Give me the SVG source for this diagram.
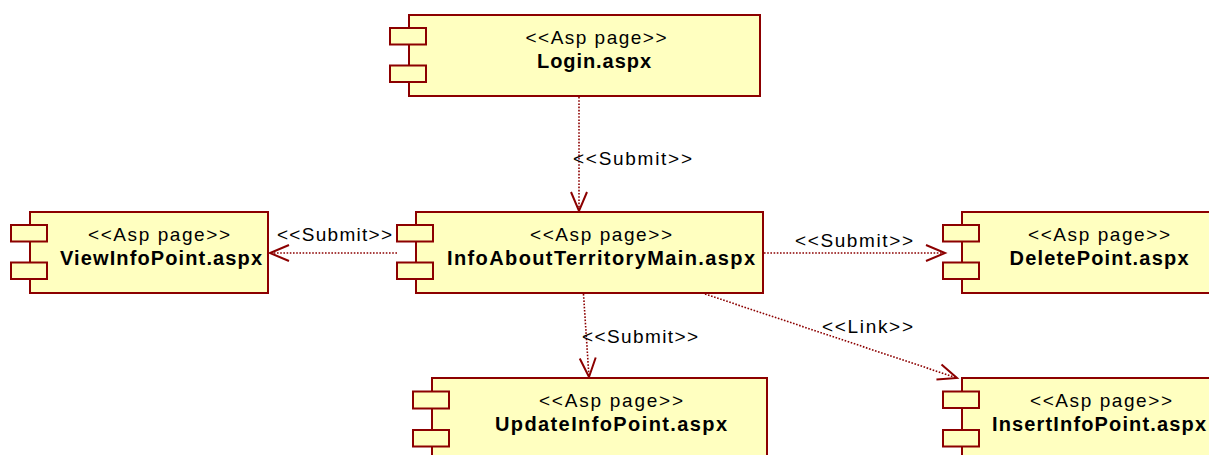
<svg xmlns="http://www.w3.org/2000/svg" width="1209" height="455" viewBox="0 0 1209 455">
  <defs>
    <style>
      .body { fill: #ffffc0; stroke: #8c0000; stroke-width: 2; }
      .tab { fill: #ffffc0; stroke: #8c0000; stroke-width: 2; }
      .stereo { font-family: "Liberation Sans", Arial, sans-serif; font-size: 19px; fill: #000; text-anchor: middle; }
      .name { font-family: "Liberation Sans", Arial, sans-serif; font-size: 20px; font-weight: bold; fill: #000; text-anchor: middle; }
      .dep { fill: none; stroke: #8c0000; stroke-width: 1.6; stroke-dasharray: 1.6 1.6; }
      .label { font-family: "Liberation Sans", Arial, sans-serif; font-size: 19px; fill: #000; }
    </style>
    <marker id="open-arrow" markerUnits="userSpaceOnUse" viewBox="-21 -10 24 20" markerWidth="24" markerHeight="20" refX="0" refY="0" orient="auto">
      <path d="M-19,-8 L0,0 L-19,8" fill="none" stroke="#8c0000" stroke-width="2"/>
    </marker>
  </defs>

  <!-- dependencies between pages -->
  <g id="connectors">
    <line class="dep" x1="579" y1="97" x2="579" y2="211" marker-end="url(#open-arrow)"/>
    <text class="label" x="573" y="165" textLength="119" lengthAdjust="spacing">&lt;&lt;Submit&gt;&gt;</text>

    <line class="dep" x1="397" y1="253" x2="270" y2="253" marker-end="url(#open-arrow)"/>
    <text class="label" x="277" y="241" textLength="115" lengthAdjust="spacing">&lt;&lt;Submit&gt;&gt;</text>

    <line class="dep" x1="764" y1="253" x2="945" y2="253" marker-end="url(#open-arrow)"/>
    <text class="label" x="795" y="247" textLength="118" lengthAdjust="spacing">&lt;&lt;Submit&gt;&gt;</text>

    <line class="dep" x1="583.5" y1="294" x2="589" y2="377" marker-end="url(#open-arrow)"/>
    <text class="label" x="582" y="343" textLength="116" lengthAdjust="spacing">&lt;&lt;Submit&gt;&gt;</text>

    <line class="dep" x1="705" y1="294" x2="957" y2="378" marker-end="url(#open-arrow)"/>
    <text class="label" x="822" y="333" textLength="91" lengthAdjust="spacing">&lt;&lt;Link&gt;&gt;</text>
  </g>

  <!-- component nodes -->
  <g id="login">
    <rect class="body" x="409" y="15" width="351" height="81"/>
    <rect class="tab" x="390" y="28" width="36" height="16.5"/>
    <rect class="tab" x="390" y="65.5" width="36" height="16.5"/>
    <text class="stereo" x="596" y="44" textLength="141" lengthAdjust="spacing">&lt;&lt;Asp page&gt;&gt;</text>
    <text class="name" x="594" y="68" textLength="114" lengthAdjust="spacing">Login.aspx</text>
  </g>

  <g id="view-info-point">
    <rect class="body" x="30" y="212" width="238" height="81"/>
    <rect class="tab" x="11" y="225" width="36" height="16.5"/>
    <rect class="tab" x="11" y="262.5" width="36" height="16.5"/>
    <text class="stereo" x="159" y="240.5" textLength="142" lengthAdjust="spacing">&lt;&lt;Asp page&gt;&gt;</text>
    <text class="name" x="161" y="264.5" textLength="202" lengthAdjust="spacing">ViewInfoPoint.aspx</text>
  </g>

  <g id="info-about-territory-main">
    <rect class="body" x="416" y="212" width="347" height="81"/>
    <rect class="tab" x="397" y="225" width="36" height="16.5"/>
    <rect class="tab" x="397" y="262.5" width="36" height="16.5"/>
    <text class="stereo" x="601" y="240.5" textLength="142" lengthAdjust="spacing">&lt;&lt;Asp page&gt;&gt;</text>
    <text class="name" x="601" y="264.5" textLength="308" lengthAdjust="spacing">InfoAboutTerritoryMain.aspx</text>
  </g>

  <g id="delete-point">
    <rect class="body" x="962" y="212" width="252" height="81"/>
    <rect class="tab" x="943" y="225" width="36" height="16.5"/>
    <rect class="tab" x="943" y="262.5" width="36" height="16.5"/>
    <text class="stereo" x="1099" y="240.5" textLength="142" lengthAdjust="spacing">&lt;&lt;Asp page&gt;&gt;</text>
    <text class="name" x="1099" y="264.5" textLength="179" lengthAdjust="spacing">DeletePoint.aspx</text>
  </g>

  <g id="update-info-point">
    <rect class="body" x="432" y="378" width="335" height="81"/>
    <rect class="tab" x="413" y="391.5" width="36" height="17"/>
    <rect class="tab" x="413" y="430" width="36" height="16.5"/>
    <text class="stereo" x="611" y="406.5" textLength="144" lengthAdjust="spacing">&lt;&lt;Asp page&gt;&gt;</text>
    <text class="name" x="611" y="430.5" textLength="232" lengthAdjust="spacing">UpdateInfoPoint.aspx</text>
  </g>

  <g id="insert-info-point">
    <rect class="body" x="962" y="378" width="252" height="81"/>
    <rect class="tab" x="943" y="391.5" width="36" height="16.5"/>
    <rect class="tab" x="943" y="430" width="36" height="16.5"/>
    <text class="stereo" x="1101" y="406.5" textLength="142" lengthAdjust="spacing">&lt;&lt;Asp page&gt;&gt;</text>
    <text class="name" x="1099" y="430.5" textLength="214" lengthAdjust="spacing">InsertInfoPoint.aspx</text>
  </g>
</svg>
